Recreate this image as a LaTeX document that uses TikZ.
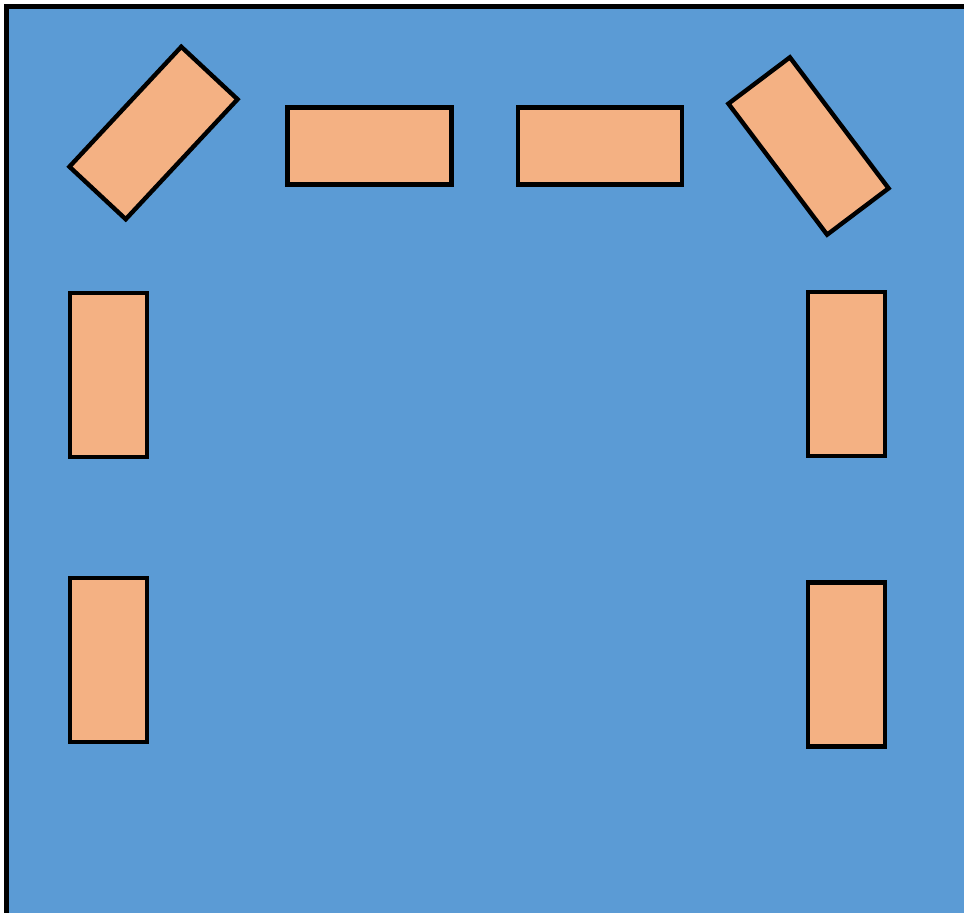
\documentclass[tikz,border=0pt]{standalone}
\usepackage{tikz}
\usetikzlibrary{positioning}
\usepackage{xcolor}
\definecolor{floorblue}{RGB}{91,155,213}
\definecolor{tileorange}{RGB}{244,177,131}

\tikzset{brick/.style={draw, fill=tileorange, line width=2.5pt, inner sep=0pt,
    minimum width=3.28cm, minimum height=1.54cm}}

\begin{document}
\begin{tikzpicture}[x=0.02cm, y=-0.02cm]
  \useasboundingbox (0,0) rectangle (964,913);
  \clip (0,0) rectangle (964,913);
  \fill[white] (0,0) rectangle (964,913);
  \draw[fill=floorblue, line width=2.5pt] (6.5,6.5) rectangle (990,940);
  % top row
  \node[brick, rotate=47] (tl) at (153.5,133) {};
  \node[brick] (t1) at (369.5,146) {};
  \node[brick] (t2) at (600,146) {};
  \node[brick, rotate=-53] (tr) at (808.5,146) {};
  % side columns
  \foreach \y/\n in {375/1, 660/2} {
    \node[brick, rotate=90] (l\n) at (108.5,\y) {};
  }
  \foreach \y/\n in {374/1, 664.5/2} {
    \node[brick, rotate=90] (r\n) at (846.5,\y) {};
  }
\end{tikzpicture}
\end{document}
